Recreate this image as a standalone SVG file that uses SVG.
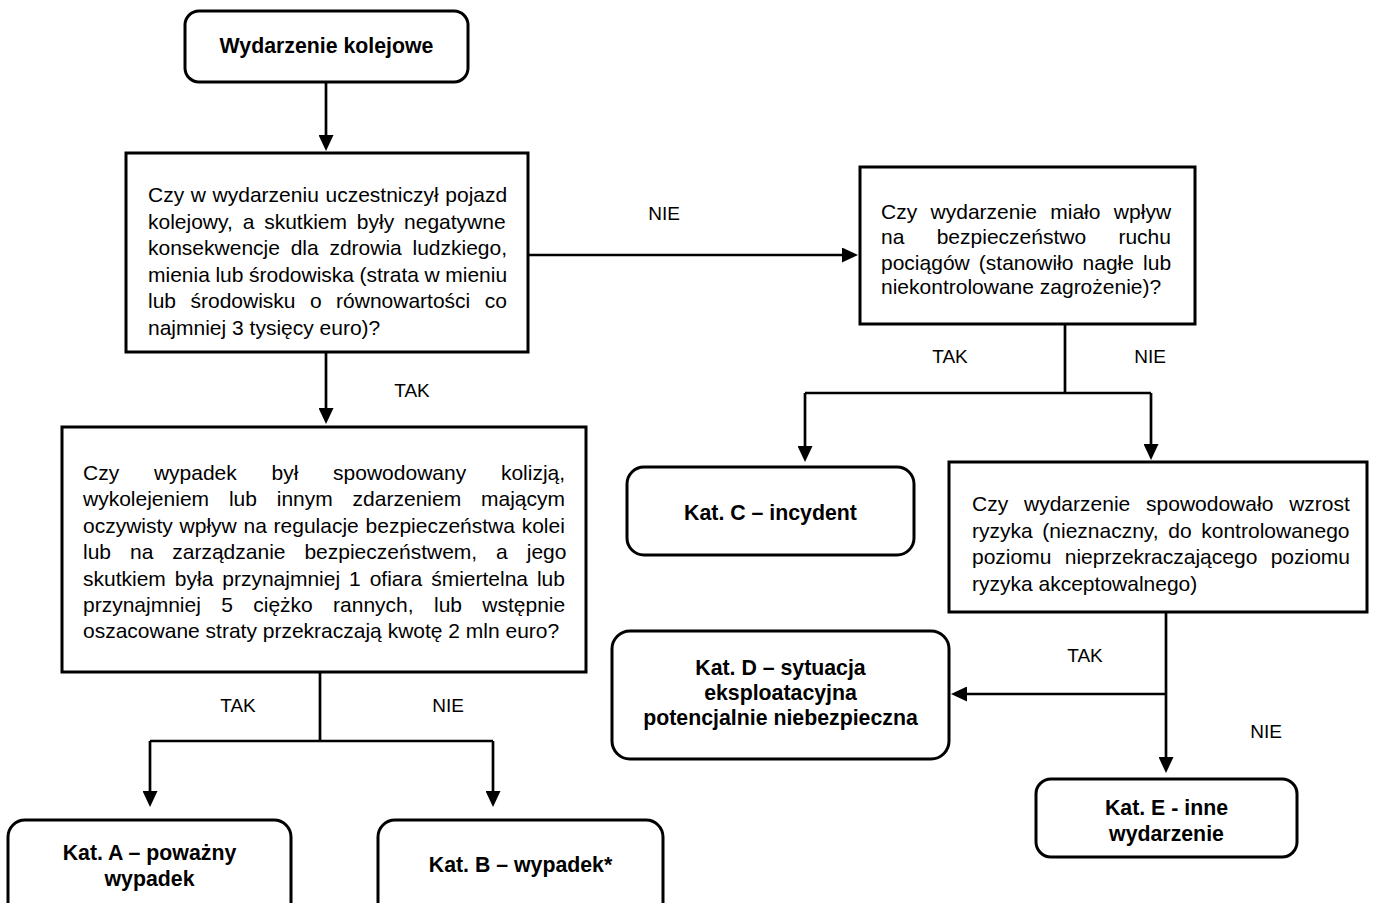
<svg xmlns="http://www.w3.org/2000/svg" width="1374" height="903" viewBox="0 0 1374 903">
<defs>
<style>
.box{fill:#fff;stroke:#000;stroke-width:3}
.rbox{fill:#fff;stroke:#000;stroke-width:3}
.t{font-family:"Liberation Sans",Arial,sans-serif;font-size:21px;fill:#000}
.b{font-family:"Liberation Sans",Arial,sans-serif;font-size:21.3px;font-weight:bold;fill:#000;text-anchor:middle}
.lbl{font-family:"Liberation Sans",Arial,sans-serif;font-size:19px;fill:#000;text-anchor:middle}
.c{fill:none;stroke:#000;stroke-width:2.7}
</style>
<marker id="ah" markerUnits="userSpaceOnUse" viewBox="0 0 16 15" refX="12" refY="7.5" markerWidth="16" markerHeight="15" orient="auto">
<path d="M0,0 L16,7.5 L0,15 z" fill="#000"/>
</marker>
</defs>
<rect width="1374" height="903" fill="#fff"/>

<g id="connectors">
<path class="c" d="M326,82 V147" marker-end="url(#ah)"/>
<path class="c" d="M528,255 H854" marker-end="url(#ah)"/>
<path class="c" d="M326,352 V420" marker-end="url(#ah)"/>
<path class="c" d="M1065,324 V393 M805,393 H1151"/>
<path class="c" d="M805,393 V458" marker-end="url(#ah)"/>
<path class="c" d="M1151,393 V456" marker-end="url(#ah)"/>
<path class="c" d="M320,672 V741 M150,741 H493"/>
<path class="c" d="M150,741 V803" marker-end="url(#ah)"/>
<path class="c" d="M493,741 V803" marker-end="url(#ah)"/>
<path class="c" d="M1166,612 V769" marker-end="url(#ah)"/>
<path class="c" d="M1166,694 H955" marker-end="url(#ah)"/>
<text class="lbl" x="664" y="220">NIE</text>
<text class="lbl" x="412" y="397">TAK</text>
<text class="lbl" x="950" y="363">TAK</text>
<text class="lbl" x="1150" y="363">NIE</text>
<text class="lbl" x="238" y="712">TAK</text>
<text class="lbl" x="448" y="712">NIE</text>
<text class="lbl" x="1085" y="662">TAK</text>
<text class="lbl" x="1266" y="738">NIE</text>
</g>

<g id="start">
<rect class="rbox" x="185" y="11" width="283" height="71" rx="14"/>
<text class="b" x="326.5" y="53">Wydarzenie kolejowe</text>
</g>

<g id="q1">
<rect class="box" x="126" y="153" width="402" height="199"/>
<text class="t" x="148" y="202" word-spacing="0.8">Czy w wydarzeniu uczestniczył pojazd</text>
<text class="t" x="148" y="228.5" word-spacing="4">kolejowy, a skutkiem były negatywne</text>
<text class="t" x="148" y="255" word-spacing="4.9">konsekwencje dla zdrowia ludzkiego,</text>
<text class="t" x="148" y="281.5" word-spacing="-0.3">mienia lub środowiska (strata w mieniu</text>
<text class="t" x="148" y="308" word-spacing="8.6">lub środowisku o równowartości co</text>
<text class="t" x="148" y="334.5">najmniej 3 tysięcy euro)?</text>
</g>

<g id="q2">
<rect class="box" x="860" y="167" width="335" height="157"/>
<text class="t" x="881" y="219" word-spacing="7.6">Czy wydarzenie miało wpływ</text>
<text class="t" x="881" y="244" word-spacing="26.5">na bezpieczeństwo ruchu</text>
<text class="t" x="881" y="269.5" word-spacing="3.3">pociągów (stanowiło nagłe lub</text>
<text class="t" x="881" y="294">niekontrolowane zagrożenie)?</text>
</g>

<g id="q3">
<rect class="box" x="62" y="427" width="524" height="245"/>
<text class="t" x="83" y="480" word-spacing="28.9">Czy wypadek był spowodowany kolizją,</text>
<text class="t" x="83" y="506.4" word-spacing="14">wykolejeniem lub innym zdarzeniem mającym</text>
<text class="t" x="83" y="532.8" word-spacing="0.9">oczywisty wpływ na regulacje bezpieczeństwa kolei</text>
<text class="t" x="83" y="559.2" word-spacing="13.1">lub na zarządzanie bezpieczeństwem, a jego</text>
<text class="t" x="83" y="585.6" word-spacing="3.1">skutkiem była przynajmniej 1 ofiara śmiertelna lub</text>
<text class="t" x="83" y="612" word-spacing="14.5">przynajmniej 5 ciężko rannych, lub wstępnie</text>
<text class="t" x="83" y="638.4">oszacowane straty przekraczają kwotę 2 mln euro?</text>
</g>

<g id="q4">
<rect class="box" x="949" y="462" width="418" height="150"/>
<text class="t" x="972" y="511" word-spacing="10">Czy wydarzenie spowodowało wzrost</text>
<text class="t" x="972" y="537.5" word-spacing="3.8">ryzyka (nieznaczny, do kontrolowanego</text>
<text class="t" x="972" y="564" word-spacing="7.5">poziomu nieprzekraczającego poziomu</text>
<text class="t" x="972" y="590.5">ryzyka akceptowalnego)</text>
</g>

<g id="katA">
<rect class="rbox" x="8" y="820" width="283" height="100" rx="17"/>
<text class="b" x="149.5" y="860">Kat. A – poważny</text>
<text class="b" x="149.5" y="886">wypadek</text>
</g>

<g id="katB">
<rect class="rbox" x="378" y="820" width="285" height="100" rx="17"/>
<text class="b" x="520.5" y="872">Kat. B – wypadek*</text>
</g>

<g id="katC">
<rect class="rbox" x="627" y="467" width="287" height="88" rx="17"/>
<text class="b" x="770.5" y="520">Kat. C – incydent</text>
</g>

<g id="katD">
<rect class="rbox" x="612" y="631" width="337" height="128" rx="18"/>
<text class="b" x="780.5" y="675">Kat. D – sytuacja</text>
<text class="b" x="780.5" y="700">eksploatacyjna</text>
<text class="b" x="780.5" y="725">potencjalnie niebezpieczna</text>
</g>

<g id="katE">
<rect class="rbox" x="1036" y="779" width="261" height="78" rx="15"/>
<text class="b" x="1166.5" y="815">Kat. E - inne</text>
<text class="b" x="1166.5" y="841">wydarzenie</text>
</g>
</svg>
